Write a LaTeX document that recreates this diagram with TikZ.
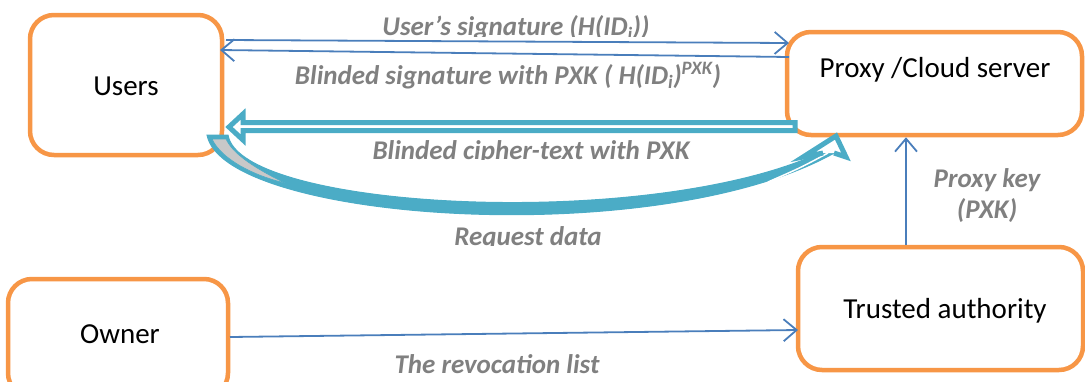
\documentclass[tikz,border=0pt]{standalone}
\usepackage{fontspec}
\setmainfont{Carlito}
\usetikzlibrary{arrows.meta}
\definecolor{boxorange}{HTML}{F79646}
\definecolor{linkblue}{HTML}{4A7EBB}
\definecolor{flowcyan}{HTML}{4BACC6}
\definecolor{labelgray}{HTML}{808080}
\definecolor{twistgray}{HTML}{C8C8C8}
\tikzset{
  entity/.style={draw=boxorange, line width=4.5pt, rounded corners=24pt, fill=white, inner sep=0pt},
  entitytext/.style={font=\fontsize{29}{34}\selectfont, text=black, inner sep=0pt},
  msg/.style={font=\fontsize{27}{31}\selectfont\bfseries\itshape, text=labelgray, inner sep=0pt},
  link/.style={draw=linkblue, line width=1.8pt, -{Straight Barb[length=13pt,width=22pt,line width=1.8pt]}},
  flow/.style={draw=flowcyan, line width=5pt, line join=miter},
}
\begin{document}
\begin{tikzpicture}[x=1pt,y=-1pt]
\useasboundingbox (0,0) rectangle (1085,381);
\clip (0,0) rectangle (1085,381);

% parties
\node[entity, minimum width=192pt, minimum height=140pt] (users) at (126,85) {};
\node[entitytext] (userslbl) at (126,86) {Users};
\node[entity, minimum width=295pt, minimum height=103pt] (proxy) at (934.5,83.5) {};
\node[entitytext] (proxylbl) at (935,70) {Proxy /Cloud server};
\node[entity, minimum width=220pt, minimum height=118pt] (owner) at (118,338) {};
\node[entitytext] (ownerlbl) at (120,334) {Owner};
\node[entity, minimum width=285pt, minimum height=123pt] (trusted) at (940.5,308.5) {};
\node[entitytext] (trustedlbl) at (945,311) {Trusted authority};

% signature exchange
\coordinate (sigA) at (226,40);
\coordinate (sigB) at (789,43);
\coordinate (bsA) at (789,57);
\coordinate (bsB) at (220,50);
\draw[link] (sigA) -- (sigB);
\draw[link] (bsA) -- (bsB);
\begin{scope}
  \clip (300,0) rectangle (720,36);
  \node[msg, anchor=base] (sig) at (516,35.5) {User’s signature (H(ID\textsubscript{i}))};
\end{scope}
\node[msg, anchor=base] (bsig) at (508,84) {Blinded signature with PXK ( H(ID\textsubscript{i})\textsuperscript{PXK})};

% blinded cipher-text (block arrow towards the users)
\draw[flow, fill=white] (229,127) -- (243,114) -- (243,122.5) -- (795,122.5) -- (795,130.5)
  -- (243,130.5) -- (243,140) -- cycle;
\begin{scope}
  \clip (300,130) rectangle (760,159.5);
  \node[msg, anchor=base] (cipher) at (531,159) {Blinded cipher-text with PXK};
\end{scope}

% request data (curved block arrow towards the proxy)
\filldraw[flowcyan, line width=1pt] (207,135) .. controls (224,222) and (660,252) .. (836,152)
  -- (822,152) .. controls (650,232) and (240,210) .. (228,135) -- cycle;
\filldraw[fill=twistgray, draw=flowcyan, line width=0.6pt] (212,139) -- (226,139)
  .. controls (232,152) and (250,166) .. (285,183)
  .. controls (255,176) and (222,160) .. (212,139) -- cycle;
\draw[white, line width=1.5pt] (768,182) .. controls (800,168) .. (828,153);
\fill[white] (823,153) -- (803,157) -- (836,136) -- (846,157) -- (834,153) -- cycle;
\draw[flow] (823,153) -- (803,157) -- (836,136) -- (846,157) -- (834,153);
\begin{scope}
  \clip (400,215) rectangle (660,245.5);
  \node[msg, anchor=base] (request) at (528,245) {Request data};
\end{scope}

% proxy key issue
\draw[link] (trusted.north -| 906,0) -- (proxy.south -| 906,0);
\node[msg, anchor=base] (pxk) at (987,187) {Proxy key};
\node[msg, anchor=base] (pxk2) at (987,218) {(PXK)};

% revocation list
\coordinate (revA) at (230,337);
\coordinate (revB) at (798,330);
\draw[link] (revA) -- (revB);
\node[msg, anchor=base] (revlbl) at (497,373) {The revocation list};
\end{tikzpicture}
\end{document}
